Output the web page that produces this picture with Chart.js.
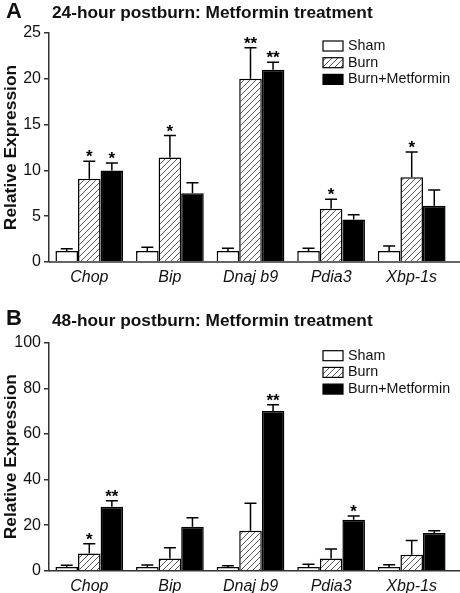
<!DOCTYPE html>
<html>
<head>
    <script src="https://cdn.jsdelivr.net/npm/chart.js@4.4.0/dist/chart.umd.min.js"></script>
    <style>
        body { margin: 0; background: #fff; }
        #wrap { position: relative; width: 460px; height: 593px; font-family: Arial, "Liberation Sans", sans-serif; color: #111; }
        canvas { position: absolute; left: 0; }
        .letter { position: absolute; left: 6px; font-weight: bold; font-size: 22px; line-height: 22px; }
        .ttl { position: absolute; left: 52px; font-weight: bold; font-size: 17.3px; line-height: 17px; white-space: nowrap; }
    </style>
</head>
<body>
<div id="wrap">
    <canvas id="chartA" width="460" height="295" style="top:0"></canvas>
    <canvas id="chartB" width="460" height="298" style="top:295px"></canvas>
    <div class="letter" style="top:0px">A</div>
    <div class="ttl" style="top:4px">24-hour postburn: Metformin treatment</div>
    <div class="letter" style="top:307px">B</div>
    <div class="ttl" style="top:312px">48-hour postburn: Metformin treatment</div>
</div>

<script>
    const genes = ["Chop", "Bip", "Dnaj b9", "Pdia3", "Xbp-1s"];
    const groups = ["Sham", "Burn", "Burn+Metformin"];

    // 24 hours
    const shamA = [1.2, 1.2, 1.2, 1.2, 1.2];
    const shamErrA = [0.25, 0.4, 0.3, 0.3, 0.55];
    const burnA = [9.1, 11.4, 20.0, 5.8, 9.25];
    const burnErrA = [1.9, 2.4, 3.4, 1.05, 2.75];
    const metA = [10.0, 7.5, 21.0, 4.65, 6.15];
    const metErrA = [0.8, 1.15, 0.8, 0.5, 1.7];
    const burnStarsA = ["*", "*", "**", "*", "*"];
    const metStarsA = ["*", "", "**", "", ""];
    const ticksA = [0, 5, 10, 15, 20, 25];

    // 48 hours
    const shamB = [1.6, 1.6, 1.6, 1.6, 1.6];
    const shamErrB = [0.8, 0.9, 0.6, 1.2, 1.0];
    const burnB = [7.5, 5.4, 17.5, 5.3, 7.0];
    const burnErrB = [4.3, 4.7, 12.1, 4.2, 6.2];
    const metB = [28.1, 19.3, 70.0, 22.4, 16.5];
    const metErrB = [2.6, 3.9, 2.8, 1.6, 1.0];
    const burnStarsB = ["*", "", "", "", ""];
    const metStarsB = ["**", "", "**", "*", ""];
    const ticksB = [0, 20, 40, 60, 80, 100];

    const axisColor = "#333";

    // diagonal hatch for the Burn bars
    function makeHatch() {
        const c = document.createElement("canvas");
        c.width = 6; c.height = 6;
        const g = c.getContext("2d");
        g.fillStyle = "#fff";
        g.fillRect(0, 0, 6, 6);
        g.strokeStyle = "#555";
        g.lineWidth = 1;
        g.beginPath();
        g.moveTo(0, 6); g.lineTo(6, 0);
        g.moveTo(-1, 1); g.lineTo(1, -1);
        g.moveTo(5, 7); g.lineTo(7, 5);
        g.stroke();
        return g.createPattern(c, "repeat");
    }
    const hatch = makeHatch();

    const extrasPlugin = {
        id: "extras",
        afterDatasetsDraw(chart, args, opts) {
            const ctx = chart.ctx;
            const y = chart.scales.y;
            const area = chart.chartArea;
            ctx.save();
            // baseline across the panel
            ctx.strokeStyle = axisColor;
            ctx.lineWidth = 1.5;
            ctx.beginPath();
            ctx.moveTo(area.left, y.getPixelForValue(0));
            ctx.lineTo(chart.width, y.getPixelForValue(0));
            ctx.stroke();

            // error bars + significance stars
            chart.data.datasets.forEach((ds, i) => {
                const meta = chart.getDatasetMeta(i);
                meta.data.forEach((bar, j) => {
                    const top = y.getPixelForValue(ds.data[j] + ds.err[j]);
                    ctx.strokeStyle = "#000";
                    ctx.lineWidth = 1.5;
                    ctx.beginPath();
                    ctx.moveTo(bar.x, bar.y);
                    ctx.lineTo(bar.x, top);
                    ctx.moveTo(bar.x - 6, top);
                    ctx.lineTo(bar.x + 6, top);
                    ctx.stroke();
                    if (ds.stars[j]) {
                        ctx.fillStyle = "#000";
                        ctx.font = "bold 17px Arial";
                        ctx.textAlign = "center";
                        ctx.textBaseline = "alphabetic";
                        ctx.fillText(ds.stars[j], bar.x, top + 1);
                    }
                });
            });

            // legend
            const lx = 323, tx = 348;
            ctx.font = "14.3px Arial";
            ctx.textAlign = "left";
            ctx.textBaseline = "middle";
            chart.data.datasets.forEach((ds, i) => {
                const cy = area.top + 13 + i * 16.7;
                ctx.fillStyle = ds.backgroundColor;
                ctx.fillRect(lx, cy - 5, 20, 10);
                ctx.strokeStyle = "#000";
                ctx.lineWidth = 1.2;
                ctx.strokeRect(lx, cy - 5, 20, 10);
                ctx.fillStyle = "#111";
                ctx.fillText(ds.label, tx, cy);
            });
            ctx.restore();
        }
    };

    function makeChart(id, sham, shamErr, burn, burnErr, met, metErr, burnStars, metStars, yTicks, padTop, xHeight) {
        const noStars = sham.map(() => "");
        return new Chart(id, {
            type: "bar",
            data: {
                labels: genes,
                datasets: [
                    { label: groups[0], data: sham, err: shamErr, stars: noStars, backgroundColor: "#fff" },
                    { label: groups[1], data: burn, err: burnErr, stars: burnStars, backgroundColor: hatch },
                    { label: groups[2], data: met, err: metErr, stars: metStars, backgroundColor: "#000" }
                ].map(d => Object.assign(d, { borderColor: "#000", borderWidth: 1.5, barPercentage: 1, categoryPercentage: 0.84 }))
            },
            options: {
                responsive: false,
                animation: false,
                layout: { padding: { top: padTop, right: 8, left: 0, bottom: 0 } },
                plugins: { legend: { display: false }, tooltip: { enabled: false } },
                scales: {
                    x: {
                        grid: { display: false, drawTicks: false },
                        border: { display: false },
                        ticks: { color: "#111", padding: 6, font: { family: "Arial", size: 16, style: "italic" } },
                        afterFit: s => { s.height = xHeight; }
                    },
                    y: {
                        min: yTicks[0],
                        max: yTicks[yTicks.length - 1],
                        afterBuildTicks: s => { s.ticks = yTicks.map(v => ({ value: v })); },
                        grid: { display: true, drawOnChartArea: false, drawTicks: true, tickLength: 5, color: axisColor, lineWidth: 1.5 },
                        border: { display: true, color: axisColor, width: 1.5 },
                        ticks: { color: "#111", padding: 3, font: { family: "Arial", size: 16 } },
                        title: { display: true, text: "Relative Expression", color: "#111", padding: { top: 1, bottom: 0 }, font: { family: "Arial", size: 17.4, weight: "bold" } },
                        afterFit: s => { s.width = 49; }
                    }
                }
            },
            plugins: [extrasPlugin]
        });
    }

    makeChart("chartA", shamA, shamErrA, burnA, burnErrA, metA, metErrA, burnStarsA, metStarsA, ticksA, 33, 33);
    makeChart("chartB", shamB, shamErrB, burnB, burnErrB, metB, metErrB, burnStarsB, metStarsB, ticksB, 47.7, 22.3);
</script>
</body>
</html>
